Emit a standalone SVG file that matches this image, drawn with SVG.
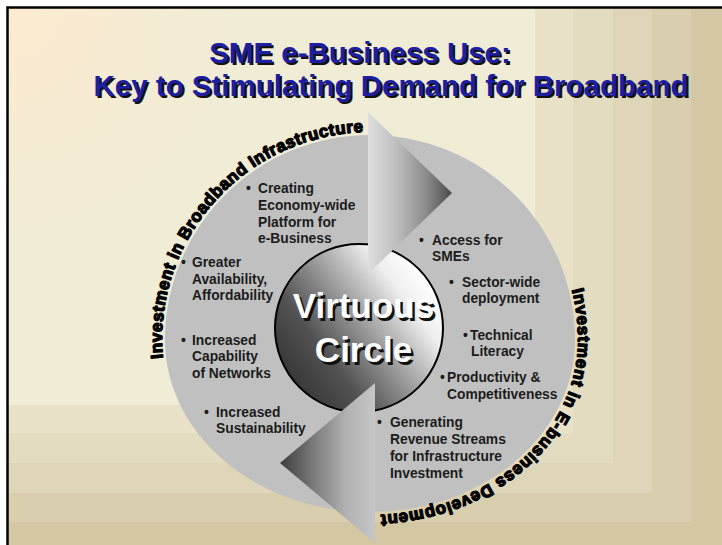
<svg xmlns="http://www.w3.org/2000/svg" xmlns:xlink="http://www.w3.org/1999/xlink" width="722" height="545" viewBox="0 0 722 545">
  <defs>
    <style>
      .title { font-family: "Liberation Sans", Arial, sans-serif; font-weight: bold; font-size: 29.5px; text-anchor: middle; }
      .title-fill { fill: #1e1ea0; }
      .shadow { fill: #111111; }
      .item { font-family: "Liberation Sans", Arial, sans-serif; font-weight: bold; font-size: 13.8px; fill: #1c1c1c; }
      .hub { font-family: "Liberation Sans", Arial, sans-serif; font-weight: bold; font-size: 35px; text-anchor: middle; }
      .hub-fill { fill: #ffffff; }
      .arc { font-family: "Liberation Sans", Arial, sans-serif; font-weight: bold; font-size: 17px; fill: #000000; stroke: #000000; stroke-width: 1.3px; stroke-linejoin: round; }
    </style>
    <radialGradient id="cornerGlow" gradientUnits="userSpaceOnUse" cx="8" cy="8" r="230">
      <stop offset="0" stop-color="#fcebd0"/>
      <stop offset="1" stop-color="#f1ecd6"/>
    </radialGradient>
    <linearGradient id="hubShade" gradientUnits="userSpaceOnUse" x1="426.2" y1="277.6" x2="291.8" y2="378.4">
      <stop offset="0" stop-color="#ffffff"/>
      <stop offset="0.18" stop-color="#eeeeee"/>
      <stop offset="0.35" stop-color="#bcbcbc"/>
      <stop offset="0.55" stop-color="#858585"/>
      <stop offset="0.75" stop-color="#525252"/>
      <stop offset="1" stop-color="#383838"/>
    </linearGradient>
    <linearGradient id="headRight" x1="0" y1="0" x2="1" y2="0">
      <stop offset="0" stop-color="#dedede"/>
      <stop offset="0.35" stop-color="#bdbdbd"/>
      <stop offset="0.7" stop-color="#8a8a8a"/>
      <stop offset="1" stop-color="#4a4a4a"/>
    </linearGradient>
    <linearGradient id="headLeft" x1="0" y1="0" x2="1" y2="0">
      <stop offset="0" stop-color="#3c3c3c"/>
      <stop offset="0.35" stop-color="#7a7a7a"/>
      <stop offset="0.7" stop-color="#b2b2b2"/>
      <stop offset="1" stop-color="#c6c6c6"/>
    </linearGradient>
    <!-- baselines for the curved captions, running clockwise so glyphs face outward -->
    <path id="arcLeft" d="M163.1,358.3 A208,175 0 0 1 162,340 A208,208 0 0 1 370,132 A208,208 0 0 1 578,340"/>
    <path id="arcRight" d="M571.8,289.7 A208,208 0 0 1 578,340 A208,175 0 0 1 370,515 A208,175 0 0 1 162,340"/>
  </defs>

  <!-- slide background: stepped corner gradient -->
  <g id="background">
    <rect x="0" y="0" width="722" height="545" fill="#ffffff"/>
    <rect x="8" y="8" width="714" height="537" fill="#d3c7a4"/>
    <rect x="8" y="8" width="683" height="514" fill="#d9ceae"/>
    <rect x="8" y="8" width="644" height="485" fill="#dfd5b8"/>
    <rect x="8" y="8" width="605" height="455" fill="#e4dcc1"/>
    <rect x="8" y="8" width="565" height="425" fill="#e9e2c9"/>
    <rect x="8" y="8" width="527" height="397" fill="url(#cornerGlow)"/>
    <path d="M7.5,545 V7.5 H722" fill="none" stroke="#000000" stroke-width="2.5"/>
  </g>

  <g id="title">
    <text class="title shadow" x="362" y="65">SME e-Business Use:</text>
    <text class="title title-fill" x="360" y="63">SME e-Business Use:</text>
    <text class="title shadow" x="393" y="98">Key to Stimulating Demand for Broadband</text>
    <text class="title title-fill" x="391" y="96">Key to Stimulating Demand for Broadband</text>
  </g>

  <!-- outer ring of the cycle -->
  <g id="ring">
    <path d="M165,340 A205,205 0 0 1 575,340 A205,172 0 0 1 165,340 Z" fill="#c0c0c0"/>
  </g>

  <g id="hub">
    <circle cx="359" cy="328" r="84" fill="url(#hubShade)" stroke="#000000" stroke-width="2"/>
  </g>

  <!-- the two arrowheads that turn the ring into a cycle -->
  <g id="connectors">
    <polygon points="368,112 452,193 368,274" fill="url(#headRight)"/>
    <polygon points="375,383 280,463 375,543" fill="url(#headLeft)"/>
  </g>

  <g id="hub-label">
    <text class="hub shadow" x="366" y="320.5">Virtuous</text>
    <text class="hub hub-fill" x="363.5" y="318">Virtuous</text>
    <text class="hub shadow" x="366" y="364.5">Circle</text>
    <text class="hub hub-fill" x="363.5" y="362">Circle</text>
  </g>

  <g id="item-platform">
    <text class="item"><tspan x="246" y="193">•</tspan><tspan x="258" y="193">Creating</tspan><tspan x="258" y="210">Economy-wide</tspan><tspan x="258" y="227">Platform for</tspan><tspan x="258" y="243">e-Business</tspan></text>
  </g>
  <g id="item-availability">
    <text class="item"><tspan x="181" y="267">•</tspan><tspan x="192" y="267">Greater</tspan><tspan x="192" y="284">Availability,</tspan><tspan x="192" y="300">Affordability</tspan></text>
  </g>
  <g id="item-capability">
    <text class="item"><tspan x="181" y="345">•</tspan><tspan x="192" y="345">Increased</tspan><tspan x="192" y="361">Capability</tspan><tspan x="192" y="378">of Networks</tspan></text>
  </g>
  <g id="item-sustainability">
    <text class="item"><tspan x="204" y="417">•</tspan><tspan x="216" y="417">Increased</tspan><tspan x="216" y="433">Sustainability</tspan></text>
  </g>
  <g id="item-access">
    <text class="item"><tspan x="419" y="245">•</tspan><tspan x="432" y="245">Access for</tspan><tspan x="432" y="261">SMEs</tspan></text>
  </g>
  <g id="item-sector">
    <text class="item"><tspan x="449" y="287">•</tspan><tspan x="462" y="287">Sector-wide</tspan><tspan x="462" y="303">deployment</tspan></text>
  </g>
  <g id="item-literacy">
    <text class="item"><tspan x="463" y="340">•</tspan><tspan x="470" y="340">Technical</tspan><tspan x="471" y="356">Literacy</tspan></text>
  </g>
  <g id="item-productivity">
    <text class="item"><tspan x="440" y="382">•</tspan><tspan x="447" y="382">Productivity &amp;</tspan><tspan x="447" y="399">Competitiveness</tspan></text>
  </g>
  <g id="item-revenue">
    <text class="item"><tspan x="377" y="427">•</tspan><tspan x="390" y="427">Generating</tspan><tspan x="390" y="444">Revenue Streams</tspan><tspan x="390" y="461">for Infrastructure</tspan><tspan x="390" y="478">Investment</tspan></text>
  </g>

  <g id="caption-infrastructure">
    <text class="arc" letter-spacing="0.5"><textPath xlink:href="#arcLeft" href="#arcLeft">Investment in Broadband Infrastructure</textPath></text>
  </g>
  <g id="caption-ebusiness">
    <text class="arc" letter-spacing="0.7"><textPath xlink:href="#arcRight" href="#arcRight">Investment in E-business Development</textPath></text>
  </g>
</svg>
